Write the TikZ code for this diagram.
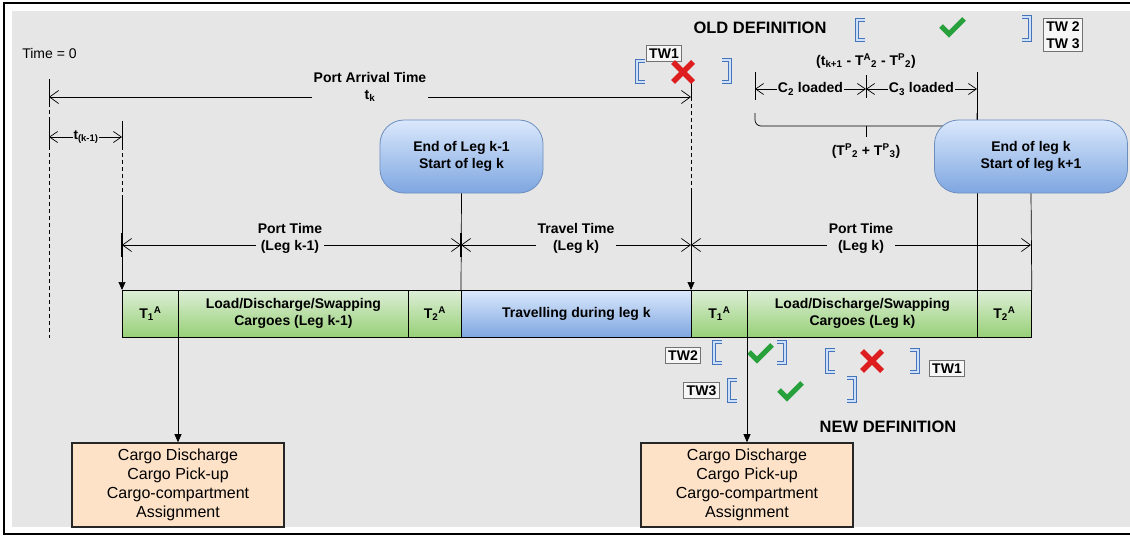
\documentclass[tikz,border=0pt]{standalone}
\usepackage{fontspec}
\setmainfont{Liberation Sans}
\usetikzlibrary{arrows.meta}
\definecolor{bg}{RGB}{230,230,230}
\definecolor{gtop}{RGB}{220,238,214}
\definecolor{gbot}{RGB}{151,208,119}
\definecolor{btop}{RGB}{218,232,252}
\definecolor{bbot}{RGB}{126,166,224}
\definecolor{bedge}{RGB}{108,142,191}
\definecolor{bredge}{RGB}{70,115,185}
\definecolor{peach}{RGB}{253,226,200}
\definecolor{okgreen}{RGB}{40,160,60}
\definecolor{nored}{RGB}{222,30,30}
\definecolor{brlight}{RGB}{205,224,250}
\definecolor{twfill}{RGB}{246,246,246}
\tikzset{
  lbl/.style={font=\bfseries\fontsize{14}{17}\selectfont, align=center, inner sep=2pt},
  mlbl/.style={lbl, fill=bg},
  gseg/.style={lbl, draw=black, line width=0.8pt, minimum height=47pt, inner sep=0pt,
    anchor=north west, top color=gtop, bottom color=gbot},
  bseg/.style={gseg, top color=btop, bottom color=bbot},
  legnode/.style={lbl, draw=bedge, line width=0.8pt, rounded corners=24pt,
    top color=btop, bottom color=bbot, minimum height=73pt},
  cargobox/.style={draw=black!85, line width=1.6pt, fill=peach, minimum width=212pt,
    minimum height=84pt, align=center, inner sep=0pt,
    font=\fontsize{16}{19}\selectfont},
  twbox/.style={draw=black!55, line width=0.7pt, fill=twfill, align=center,
    font=\bfseries\fontsize{14}{16.5}\selectfont, inner sep=3pt},
  dim/.style={line width=0.7pt, {Straight Barb[length=9pt,width=13pt]}-{Straight Barb[length=9pt,width=13pt]}},
  dimsm/.style={line width=0.7pt, {Straight Barb[length=8pt,width=11pt]}-{Straight Barb[length=8pt,width=11pt]}},
  dsh/.style={line width=0.7pt, dash pattern=on 4pt off 3pt},
  solidl/.style={line width=0.7pt},
  downarrow/.style={line width=0.7pt, -{Triangle[length=8pt,width=7pt]}},
  brk/.style={draw=bredge, line width=0.9pt, double=brlight, double distance=1.8pt},
  chkst/.style={draw=okgreen, line width=5pt, line join=miter},
  xst/.style={draw=nored, line width=5.5pt}
}
\newcommand\lbrk[3]{\draw[brk] (#1+8,#2) -- (#1,#2) -- (#1,#3) -- (#1+8,#3);}
\newcommand\rbrk[3]{\draw[brk] (#1-8,#2) -- (#1,#2) -- (#1,#3) -- (#1-8,#3);}
\newcommand\chk[2]{\draw[chkst] (#1-11,#2-1) -- (#1-3,#2+7) -- (#1+12,#2-8);}
\newcommand\xmark[2]{\draw[xst] (#1-10,#2-10) -- (#1+10,#2+10); \draw[xst] (#1-10,#2+10) -- (#1+10,#2-10);}
\begin{document}
\begin{tikzpicture}[x=1pt,y=-1pt]
\useasboundingbox (0,0) rectangle (1130,536);
\clip (0,0) rectangle (1130,536);
\draw[line width=1.2pt, fill=white] (4,3) rectangle (1150,534);
\fill[bg] (12,11) rectangle (1150,527);

% ---- bar ----
\node[gseg, minimum width=56pt]  (s1) at (122,290) {T\textsubscript{1}\textsuperscript{A}};
\node[gseg, minimum width=230pt] (s2) at (178,290) {Load/Discharge/Swapping\\Cargoes (Leg k-1)};
\node[gseg, minimum width=53pt]  (s3) at (408,290) {T\textsubscript{2}\textsuperscript{A}};
\node[bseg, minimum width=230pt] (s4) at (461,290) {Travelling during leg k};
\node[gseg, minimum width=56pt]  (s5) at (691,290) {T\textsubscript{1}\textsuperscript{A}};
\node[gseg, minimum width=230pt] (s6) at (747,290) {Load/Discharge/Swapping\\Cargoes (Leg k)};
\node[gseg, minimum width=54pt]  (s7) at (977,290) {T\textsubscript{2}\textsuperscript{A}};

% ---- Time = 0 ----
\node[font=\fontsize{14}{17}\selectfont, inner sep=0pt] (t0) at (49.5,53) {Time = 0};
\coordinate (a0) at (49,79);  \coordinate (a1) at (49,103);
\coordinate (a2) at (49,121); \coordinate (a3) at (49,146);
\coordinate (a4) at (49,338);
\draw[solidl] (a0) -- (a1); \draw[dsh] (a1) -- (a2);
\draw[solidl] (a2) -- (a3); \draw[dsh] (a3) -- (a4);

% ---- line at 122 ----
\coordinate (b0) at (122,121); \coordinate (b1) at (122,146);
\coordinate (b2) at (122,195);
\draw[solidl] (b0) -- (b1); \draw[dsh] (b1) -- (b2);
\draw[downarrow] (b2) -- (s1.north west);
\draw[line width=1.3pt] (122,233) -- (122,257);

% ---- line at 691 ----
\coordinate (c0) at (691,82); \coordinate (c1) at (691,97);
\coordinate (c2) at (691,190);
\draw[solidl] (c0) -- (c1); \draw[dsh] (c1) -- (c2);
\draw[downarrow] (c2) -- (s5.north west);

% ---- Port arrival time ----
\coordinate (pa0) at (49,97); \coordinate (pa1) at (691,97);
\draw[dim] (pa0) -- (pa1);
\node[mlbl] (patl) at (370,87) {Port Arrival Time\\t\textsubscript{k}};

% ---- t(k-1) ----
\coordinate (tk0) at (49,137); \coordinate (tk1) at (122,137);
\draw[dimsm] (tk0) -- (tk1);
\node[mlbl, inner sep=1pt, font=\bfseries\fontsize{13.5}{15}\selectfont] (tkl) at (86,137) {t\textsubscript{(k-1)}};

% ---- C2/C3 loaded (drawn before node 2) ----
\coordinate (d0) at (755,72); \coordinate (d1) at (755,100);
\coordinate (e0) at (866,75); \coordinate (e1) at (866,98);
\coordinate (f0) at (977,72);
\draw[solidl] (d0) -- (d1);
\draw[solidl] (e0) -- (e1);
\draw[solidl] (f0) -- (s7.north west);
\coordinate (cl0) at (755,89); \coordinate (cl1) at (866,89); \coordinate (cl2) at (977,89);
\draw[dimsm] (cl0) -- (cl1);
\draw[dimsm] (cl1) -- (cl2);
\node[mlbl, inner sep=1pt] (c2l) at (810.5,89) {C\textsubscript{2} loaded};
\node[mlbl, inner sep=1pt] (c3l) at (921.5,89) {C\textsubscript{3} loaded};
\node[lbl] (tkp) at (866,61) {(t\textsubscript{k+1} - T\textsuperscript{A}\textsubscript{2} - T\textsuperscript{P}\textsubscript{2})};

% brace
\draw[solidl, rounded corners=6pt] (755,113) -- (755,126) -- (977,126) -- (977,113);
\draw[solidl] (866,126) -- (866,137);
\node[lbl] (tpp) at (866,151) {(T\textsuperscript{P}\textsubscript{2} + T\textsuperscript{P}\textsubscript{3})};

% ---- leg nodes ----
\node[legnode, minimum width=163pt] (n1) at (461.5,156.5) {End of Leg k-1\\Start of leg k};
\node[legnode, minimum width=193pt] (n2) at (1031,156.5) {End of leg k\\Start of leg k+1};
\draw[solidl] (n1.south) -- (s4.north west);
\draw[solidl] (n2.south) -- (s7.north east);

% ---- port/travel time dims ----
\draw[dim] (s1.north west |- 0,245) coordinate (p0) -- (461,245) coordinate (p1);
\draw[dim] (p1) -- (691,245) coordinate (p2);
\draw[dim] (p2) -- (1031,245) coordinate (p3);
\draw[line width=1.3pt] (461,233) -- (461,257);
\node[mlbl] (pt1) at (290,238.5) {Port Time\\(Leg k-1)};
\node[mlbl] (tt)  at (576,238.5) {Travel Time\\(Leg k)};
\node[mlbl] (pt2) at (861,238.5) {Port Time\\(Leg k)};

% ---- old definition ----
\node[lbl, font=\bfseries\fontsize{16.5}{19}\selectfont] (old) at (760,28) {OLD DEFINITION};
\lbrk{857}{20}{40}
\chk{952}{27}
\rbrk{1030}{17}{40}
\node[twbox] (tw23) at (1063,35) {TW 2\\TW 3};

\node[twbox] (tw1a) at (664,53.5) {TW1};
\lbrk{637}{61}{82}
\xmark{683}{72}
\rbrk{730}{60}{82}

% ---- new definition ----
\node[twbox] (tw2b) at (683,355.5) {TW2};
\lbrk{714}{342}{363}
\chk{760}{353}
\rbrk{785}{342}{363}

\lbrk{827}{350}{372}
\xmark{872}{361}
\rbrk{918}{350}{372}
\node[twbox] (tw1b) at (947,368.5) {TW1};

\node[twbox] (tw3b) at (701.5,390.5) {TW3};
\lbrk{729}{380}{401}
\chk{790}{391}
\rbrk{855}{378}{401}

\node[lbl, font=\bfseries\fontsize{16.5}{19}\selectfont] (new) at (888,427) {NEW DEFINITION};

% ---- cargo boxes ----
\node[cargobox] (box1) at (178,485) {Cargo Discharge\\Cargo Pick-up\\Cargo-compartment\\Assignment};
\node[cargobox] (box2) at (747,485) {Cargo Discharge\\Cargo Pick-up\\Cargo-compartment\\Assignment};
\draw[downarrow] (s2.south west) -- (box1.north);
\draw[downarrow] (s6.south west) -- (box2.north);
\end{tikzpicture}
\end{document}
